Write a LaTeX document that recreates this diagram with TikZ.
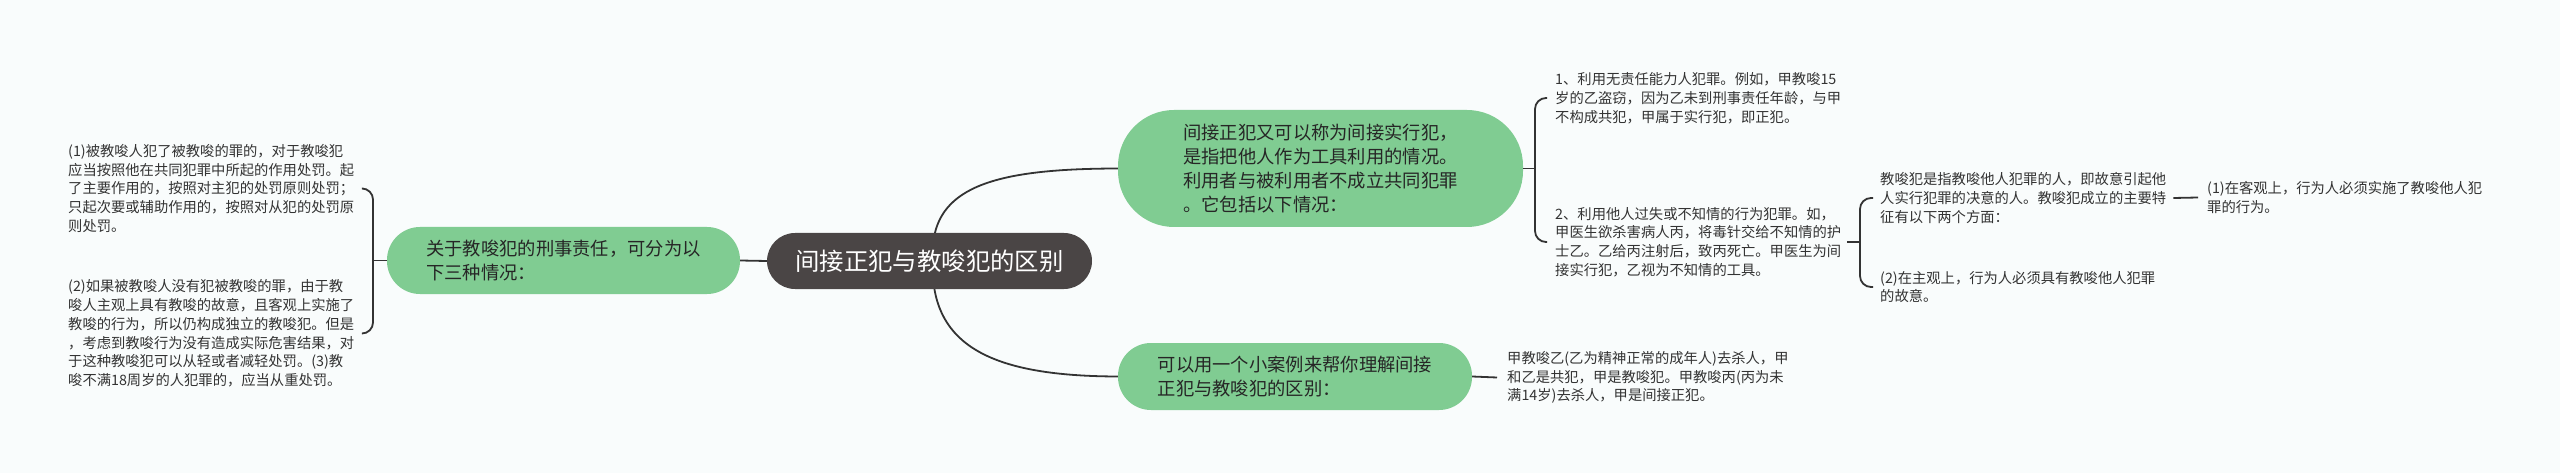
\documentclass[tikz,border=0pt]{standalone}
\usepackage{fontspec}
\newfontfamily\cjk{Noto Sans CJK SC}
\definecolor{bg}{HTML}{F9FCFC}
\definecolor{gr}{HTML}{80CC92}
\definecolor{dk}{HTML}{4A4545}
\definecolor{ln}{HTML}{333333}
\definecolor{tx}{HTML}{333333}
\definecolor{gtx}{HTML}{262626}
\begin{document}
\begin{tikzpicture}[x=1pt,y=-1pt,
  small/.style={font=\cjk\fontsize{14.3}{18.8}\selectfont, text=tx, align=left, inner sep=0pt, anchor=west},
  greennode/.style={rectangle, fill=gr, font=\cjk\fontsize{18.3}{24}\selectfont, text=gtx, align=left, inner sep=0pt},
  conn/.style={draw=ln, line width=1.8pt},
]
\fill[bg] (0,0) rectangle (2560,473);
\useasboundingbox (0,0) rectangle (2560,473);

% curves behind the central node
\draw[conn] (933,245) .. controls (938,185) and (1000,168.5) .. (1120,168.5) coordinate (g1in);
\draw[conn] (933,277) .. controls (938,350) and (1000,376.5) .. (1120,376.5) coordinate (g2in);

\node[rectangle, fill=dk, rounded corners=28, minimum width=325, minimum height=56, inner sep=0pt,
      text=white, font=\cjk\fontsize{24.4}{28}\selectfont] (c) at (929.5,261) {间接正犯与教唆犯的区别};

\node[greennode, rounded corners=33, minimum width=353, minimum height=67] (lg) at (563.5,260.5)
  {关于教唆犯的刑事责任，可分为以\\下三种情况：};
\node[greennode, rounded corners=56, minimum width=405, minimum height=117] (g1) at (1320.5,168.5)
  {间接正犯又可以称为间接实行犯，\\是指把他人作为工具利用的情况。\\利用者与被利用者不成立共同犯罪\\。它包括以下情况：};
\node[greennode, rounded corners=33, minimum width=354, minimum height=67] (g2) at (1295,376.5)
  {可以用一个小案例来帮你理解间接\\正犯与教唆犯的区别：};

\node[small] (L1) at (68,188.5) {(1)被教唆人犯了被教唆的罪的，对于教唆犯\\应当按照他在共同犯罪中所起的作用处罚。起\\了主要作用的，按照对主犯的处罚原则处罚；\\只起次要或辅助作用的，按照对从犯的处罚原\\则处罚。};
\node[small] (L2) at (68,333.5) {(2)如果被教唆人没有犯被教唆的罪，由于教\\唆人主观上具有教唆的故意，且客观上实施了\\教唆的行为，所以仍构成独立的教唆犯。但是\\，考虑到教唆行为没有造成实际危害结果，对\\于这种教唆犯可以从轻或者减轻处罚。(3)教\\唆不满18周岁的人犯罪的，应当从重处罚。};
\node[small] (R1) at (1555,98) {1、利用无责任能力人犯罪。例如，甲教唆15\\岁的乙盗窃，因为乙未到刑事责任年龄，与甲\\不构成共犯，甲属于实行犯，即正犯。};
\node[small] (R2) at (1555,242) {2、利用他人过失或不知情的行为犯罪。如，\\甲医生欲杀害病人丙，将毒针交给不知情的护\\士乙。乙给丙注射后，致丙死亡。甲医生为间\\接实行犯，乙视为不知情的工具。};
\node[small] (R2a) at (1880,198) {教唆犯是指教唆他人犯罪的人，即故意引起他\\人实行犯罪的决意的人。教唆犯成立的主要特\\征有以下两个方面：};
\node[small] (R2b) at (1880,287) {(2)在主观上，行为人必须具有教唆他人犯罪\\的故意。};
\node[small] (R2a1) at (2207,197.5) {(1)在客观上，行为人必须实施了教唆他人犯\\罪的行为。};
\node[small] (N2a) at (1507,377.5) {甲教唆乙(乙为精神正常的成年人)去杀人，甲\\和乙是共犯，甲是教唆犯。甲教唆丙(丙为未\\满14岁)去杀人，甲是间接正犯。};

% left side
\draw[conn] (c.west) -- (lg.east);
\coordinate (lb) at (373,260.5);
\draw[conn] (lg.west) -- (lb);
\draw[conn, rounded corners=11] ([xshift=9]L1.east) -- (L1.east -| lb) -- (L2.east -| lb) -- ([xshift=8]L2.east);

% right bracket 1
\coordinate (rb1) at (1535,168.5);
\draw[conn] (g1.east) -- (rb1);
\draw[conn, rounded corners=11] ([xshift=-8]R1.west) -- (R1.west -| rb1) -- (R2.west -| rb1) -- ([xshift=-8]R2.west);

% bracket 2
\coordinate (rb2) at (1860,242);
\draw[conn] ([xshift=6]R2.east) -- (R2.east -| rb2);
\draw[conn, rounded corners=11] ([xshift=-7]R2a.west) -- (R2a.west -| rb2) -- (R2b.west -| rb2) -- ([xshift=-7]R2b.west);

% single lines
\draw[conn] ([xshift=7]R2a.east) -- ([xshift=-9]R2a1.west);
\draw[conn] (g2.east) -- ([xshift=-10]N2a.west);
\end{tikzpicture}
\end{document}
